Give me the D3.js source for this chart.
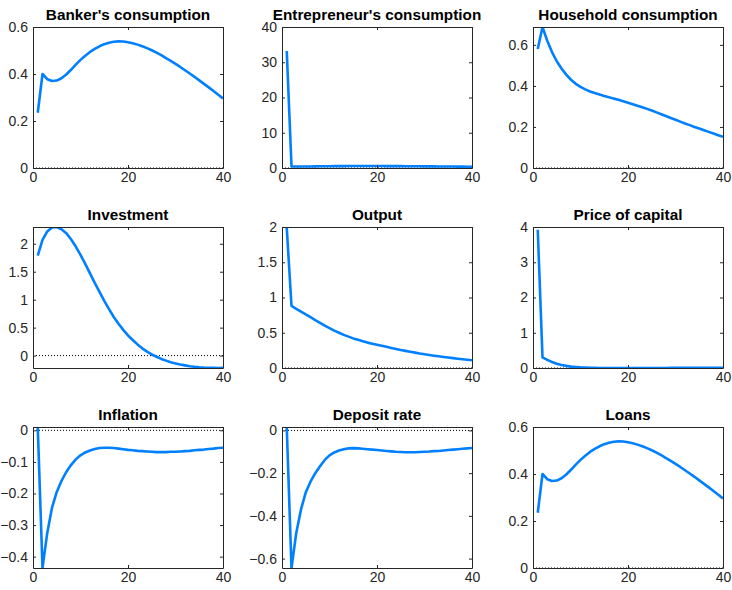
<!DOCTYPE html>
<html>
<head>
<meta charset="utf-8">
<script src="https://cdn.jsdelivr.net/npm/d3@7"></script>
<style>
body { margin: 0; background: #fff; }
text { font-family: "Liberation Sans", Arial, sans-serif; }
</style>
</head>
<body>
<div id="chart"></div>
<script>
// horizon 1..40
const periods = d3.range(1, 41);
const xTicks = [0, 20, 40];

const titles = ["Banker's consumption", "Entrepreneur's consumption", "Household consumption",
    "Investment", "Output", "Price of capital",
    "Inflation", "Deposit rate", "Loans"];

const yDomains = [[0, 0.6], [0, 40], [0, 0.687],
    [-0.222, 2.3], [0, 2], [0, 4],
    [-0.436, 0.0105], [-0.644, 0.016], [0, 0.6]];

const yTicks = [[0, 0.2, 0.4, 0.6], [0, 10, 20, 30, 40], [0, 0.2, 0.4, 0.6],
    [0, 0.5, 1, 1.5, 2], [0, 0.5, 1, 1.5, 2], [0, 1, 2, 3, 4],
    [0, -0.1, -0.2, -0.3, -0.4], [0, -0.2, -0.4, -0.6], [0, 0.2, 0.4, 0.6]];

const bankerCons = [0.235, 0.40, 0.378, 0.37, 0.372, 0.382, 0.398, 0.418, 0.44, 0.46,
    0.478, 0.494, 0.507, 0.518, 0.527, 0.533, 0.537, 0.539, 0.538, 0.535,
    0.531, 0.525, 0.518, 0.51, 0.501, 0.491, 0.48, 0.468, 0.456, 0.443,
    0.43, 0.416, 0.402, 0.388, 0.373, 0.358, 0.343, 0.328, 0.312, 0.296];

const entrepCons = [33.2, 0.45, 0.42, 0.42, 0.43, 0.44, 0.46, 0.48, 0.5, 0.51,
    0.52, 0.53, 0.54, 0.55, 0.55, 0.56, 0.56, 0.56, 0.56, 0.55,
    0.55, 0.54, 0.54, 0.53, 0.52, 0.51, 0.5, 0.49, 0.48, 0.47,
    0.46, 0.45, 0.44, 0.43, 0.42, 0.41, 0.4, 0.39, 0.37, 0.36];

const householdCons = [0.58, 0.687, 0.62, 0.565, 0.52, 0.485, 0.455, 0.43, 0.41, 0.395,
    0.383, 0.373, 0.365, 0.358, 0.351, 0.345, 0.338, 0.332, 0.325, 0.318,
    0.311, 0.303, 0.296, 0.288, 0.28, 0.271, 0.262, 0.253, 0.244, 0.235,
    0.226, 0.217, 0.209, 0.2, 0.192, 0.184, 0.176, 0.168, 0.16, 0.152];

const investment = [1.79, 2.07, 2.22, 2.29, 2.3, 2.26, 2.19, 2.08, 1.95, 1.8,
    1.64, 1.47, 1.3, 1.14, 0.98, 0.83, 0.69, 0.57, 0.46, 0.36,
    0.28, 0.2, 0.13, 0.07, 0.02, -0.02, -0.06, -0.09, -0.12, -0.14,
    -0.16, -0.175, -0.19, -0.2, -0.208, -0.214, -0.218, -0.22, -0.221, -0.22];

const output = [1.99, 0.88, 0.84, 0.8, 0.76, 0.72, 0.68, 0.64, 0.6, 0.565,
    0.53, 0.5, 0.47, 0.445, 0.42, 0.4, 0.38, 0.36, 0.345, 0.33,
    0.315, 0.3, 0.285, 0.27, 0.255, 0.243, 0.23, 0.218, 0.205, 0.195,
    0.185, 0.175, 0.166, 0.157, 0.148, 0.14, 0.132, 0.124, 0.117, 0.11];

const priceCapital = [3.92, 0.3, 0.23, 0.17, 0.12, 0.085, 0.06, 0.04, 0.027, 0.017,
    0.01, 0.005, 0.003, 0.002, 0.002, 0.002, 0.002, 0.002, 0.002, 0.002,
    0.002, 0.002, 0.002, 0.002, 0.002, 0.002, 0.002, 0.002, 0.003, 0.003,
    0.003, 0.003, 0.003, 0.004, 0.004, 0.004, 0.004, 0.005, 0.005, 0.005];

const inflation = [0.0105, -0.436, -0.325, -0.245, -0.195, -0.16, -0.132, -0.11, -0.092, -0.079,
    -0.07, -0.064, -0.059, -0.056, -0.055, -0.055, -0.056, -0.058, -0.06, -0.062,
    -0.063, -0.065, -0.066, -0.067, -0.068, -0.069, -0.069, -0.069, -0.068, -0.068,
    -0.067, -0.066, -0.065, -0.063, -0.062, -0.061, -0.059, -0.058, -0.056, -0.055];

const depositRate = [0.016, -0.644, -0.48, -0.37, -0.29, -0.24, -0.2, -0.168, -0.138, -0.117,
    -0.103, -0.094, -0.088, -0.084, -0.083, -0.084, -0.086, -0.088, -0.09, -0.092,
    -0.094, -0.096, -0.098, -0.1, -0.101, -0.102, -0.102, -0.102, -0.101, -0.1,
    -0.099, -0.097, -0.096, -0.094, -0.092, -0.09, -0.088, -0.086, -0.084, -0.082];

const loans = [0.235, 0.40, 0.378, 0.37, 0.372, 0.382, 0.398, 0.418, 0.44, 0.46,
    0.478, 0.494, 0.507, 0.518, 0.527, 0.533, 0.537, 0.539, 0.538, 0.535,
    0.531, 0.525, 0.518, 0.51, 0.501, 0.491, 0.48, 0.468, 0.456, 0.443,
    0.43, 0.416, 0.402, 0.388, 0.373, 0.358, 0.343, 0.328, 0.312, 0.296];

const series = [bankerCons, entrepCons, householdCons, investment, output, priceCapital,
    inflation, depositRate, loans];

// panel grid (matlab subplot 3x3)
const width = 732, height = 590;
const colLeft = [33, 282, 533];
const rowTop = [27, 227, 427];
const pw = 190, ph = 141;
const axisColor = "#262626";

const svg = d3.select("#chart").append("svg")
    .attr("width", width)
    .attr("height", height);

series.forEach((vals, i) => {
    const row = Math.floor(i / 3);
    const col = i % 3;
    const g = svg.append("g")
        .attr("transform", `translate(${colLeft[col]},${rowTop[row]})`);

    const x = d3.scaleLinear().domain([0, 40]).range([0, pw]);
    const y = d3.scaleLinear().domain(yDomains[i]).range([ph, 0]);

    g.append("clipPath").attr("id", "clip" + i)
        .append("rect").attr("width", pw).attr("height", ph);

    // zero reference line
    g.append("line")
        .attr("x1", x(0)).attr("x2", x(40))
        .attr("y1", y(0)).attr("y2", y(0))
        .attr("stroke", "#000")
        .attr("stroke-width", 1)
        .attr("stroke-dasharray", "1,2");

    const line = d3.line()
        .x((d, j) => x(periods[j]))
        .y(d => y(d));

    g.append("path")
        .datum(vals)
        .attr("clip-path", `url(#clip${i})`)
        .attr("fill", "none")
        .attr("stroke", "#0080ff")
        .attr("stroke-width", 2.6)
        .attr("stroke-linejoin", "round")
        .attr("d", line);

    // box + inward ticks on all four sides
    g.append("g").attr("transform", `translate(0,${ph})`)
        .call(d3.axisBottom(x).tickValues(xTicks).tickSizeInner(-3).tickSizeOuter(0).tickPadding(4));
    g.append("g")
        .call(d3.axisLeft(y).tickValues(yTicks[i]).tickSizeInner(-3).tickSizeOuter(0).tickPadding(5)
            .tickFormat(d3.format("~g")));
    g.append("g")
        .call(d3.axisTop(x).tickValues(xTicks).tickSizeInner(-3).tickSizeOuter(0).tickFormat(""));
    g.append("g").attr("transform", `translate(${pw},0)`)
        .call(d3.axisRight(y).tickValues(yTicks[i]).tickSizeInner(-3).tickSizeOuter(0).tickFormat(""));

    g.selectAll(".domain").attr("stroke", axisColor);
    g.selectAll(".tick line").attr("stroke", axisColor);
    g.selectAll(".tick text")
        .attr("fill", axisColor)
        .style("font-size", "14px")
        .style("font-family", "'Liberation Sans', Arial, sans-serif");

    g.append("text")
        .attr("x", pw / 2)
        .attr("y", -7)
        .attr("text-anchor", "middle")
        .style("font-size", "15.3px")
        .style("font-weight", "bold")
        .attr("fill", "#000")
        .text(titles[i]);
});
</script>
</body>
</html>
